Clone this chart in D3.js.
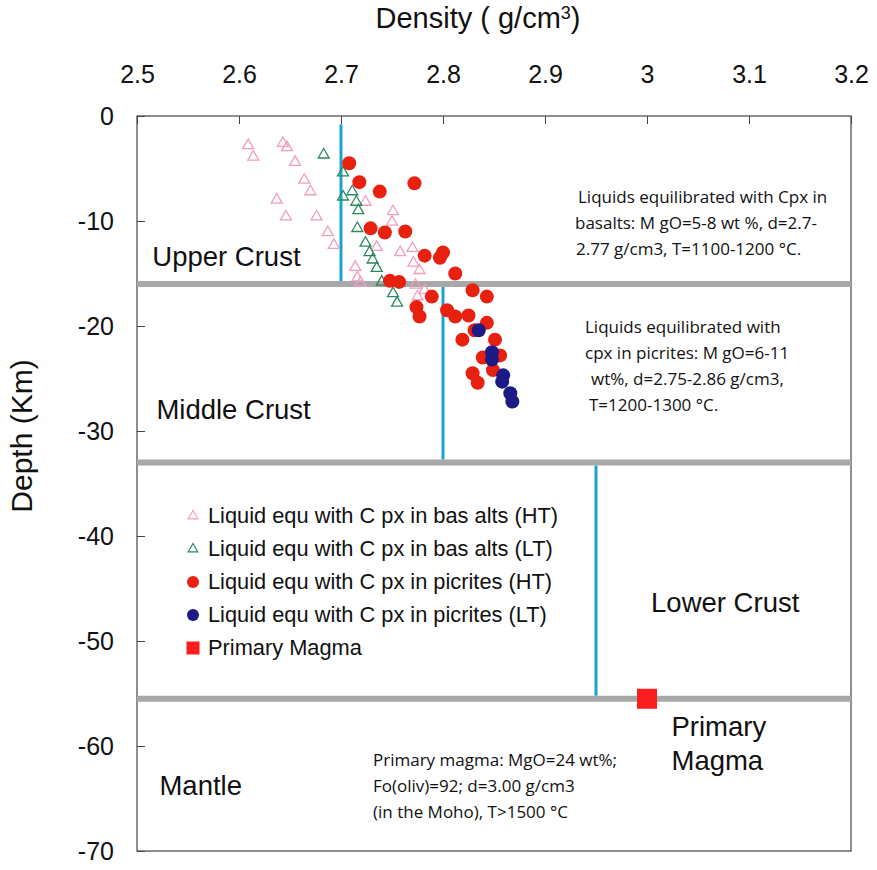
<!DOCTYPE html>
<html>
<head>
<meta charset="utf-8">
<script src="https://cdn.jsdelivr.net/npm/d3@7/dist/d3.min.js"></script>
<style>
  body { margin: 0; background: #fff; }
  text { font-family: "Liberation Sans", Arial, sans-serif; fill: #111; }
  .note { font-family: "Open Sans", "Noto Sans", sans-serif; font-size: 17px; }
</style>
</head>
<body>
<div id="chart"></div>
<script>
// axis ticks
var densityTicks = [2.5, 2.6, 2.7, 2.8, 2.9, 3.0, 3.1, 3.2];
var depthTicks = [0, -10, -20, -30, -40, -50, -60, -70];

// [density g/cm3, depth km]
var basaltsHT = [
  [2.609, -2.8], [2.614, -3.9], [2.643, -2.6], [2.647, -3.0], [2.655, -4.4],
  [2.664, -6.1], [2.670, -7.2], [2.637, -8.0], [2.646, -9.6], [2.676, -9.6],
  [2.687, -11.1], [2.693, -12.3], [2.724, -8.2], [2.751, -9.1], [2.750, -10.1],
  [2.735, -12.5], [2.758, -13.0], [2.770, -12.6], [2.771, -14.0], [2.777, -14.7],
  [2.714, -14.4], [2.716, -15.4], [2.719, -15.9], [2.773, -16.1], [2.782, -16.6],
  [2.775, -17.2]
];
var basaltsLT = [
  [2.683, -3.7], [2.702, -5.4], [2.702, -7.7], [2.711, -7.2], [2.715, -8.2],
  [2.717, -9.0], [2.716, -10.7], [2.724, -12.1], [2.728, -13.0], [2.731, -13.7],
  [2.735, -14.5], [2.740, -15.8], [2.751, -16.9], [2.755, -17.8]
];
var picritesHT = [
  [2.708, -4.5], [2.718, -6.3], [2.738, -7.2], [2.772, -6.4], [2.729, -10.7],
  [2.743, -11.1], [2.763, -11.0], [2.782, -13.3], [2.797, -13.5], [2.800, -13.0],
  [2.812, -15.0], [2.748, -15.7], [2.757, -15.8], [2.789, -17.2], [2.829, -16.6],
  [2.843, -17.2], [2.774, -18.2], [2.804, -18.5], [2.812, -19.1], [2.825, -19.0],
  [2.777, -19.1], [2.843, -19.7], [2.831, -20.4], [2.851, -21.3], [2.819, -21.3],
  [2.839, -23.0], [2.856, -22.8], [2.849, -24.2], [2.829, -24.5], [2.834, -25.4]
];
var picritesLT = [
  [2.835, -20.4], [2.848, -22.5], [2.848, -23.2], [2.859, -24.7],
  [2.858, -25.3], [2.866, -26.4], [2.868, -27.2]
];
var primaryMagma = [[3.0, -55.5]];

// crust layer boundaries (km) and model densities per layer
var boundaries = [-16, -33, -55.5];
var layerDensity = [
  { d: 2.7, top: -0.8, bottom: -16 },
  { d: 2.8, top: -16, bottom: -33 },
  { d: 2.95, top: -33, bottom: -55.5 }
];

var legendLabels = [
  "Liquid equ with C px in bas alts (HT)",
  "Liquid equ with C px in bas alts (LT)",
  "Liquid equ with C px in picrites (HT)",
  "Liquid equ with C px in picrites (LT)",
  "Primary Magma"
];

var svgWidth = 877, svgHeight = 870;
var plot = { left: 137, right: 851, top: 116, bottom: 851 };

var svg = d3.select("#chart").append("svg")
  .attr("width", svgWidth)
  .attr("height", svgHeight);

var x = d3.scaleLinear().domain([2.5, 3.2]).range([plot.left, plot.right]);
var y = d3.scaleLinear().domain([0, -70]).range([plot.top, plot.bottom]);

// frame
svg.append("rect")
  .attr("x", plot.left).attr("y", plot.top)
  .attr("width", plot.right - plot.left).attr("height", plot.bottom - plot.top)
  .attr("fill", "none").attr("stroke", "#444").attr("stroke-width", 1.2);

// axes, ticks pointing inward
var xAxis = d3.axisTop(x).tickValues(densityTicks).tickFormat(d => String(d))
  .tickSizeInner(-8).tickSizeOuter(0).tickPadding(33);
var yAxis = d3.axisLeft(y).tickValues(depthTicks).tickFormat(d => String(d))
  .tickSizeInner(-8).tickSizeOuter(0).tickPadding(23);

var gx = svg.append("g").attr("transform", `translate(0, ${plot.top})`).call(xAxis);
var gy = svg.append("g").attr("transform", `translate(${plot.left}, 0)`).call(yAxis);
[gx, gy].forEach(function (g) {
  g.select(".domain").remove();
  g.selectAll("line").attr("stroke", "#444");
  g.selectAll("text").attr("font-size", 25).attr("fill", "#111")
    .attr("font-family", "Liberation Sans, Arial, sans-serif");
});

// axis titles
var title = svg.append("text")
  .attr("x", 478).attr("y", 28)
  .attr("text-anchor", "middle")
  .attr("font-size", 29)
  .text("Density ( g/cm");
title.append("tspan").attr("font-size", 18).attr("dy", -9).text("3");
title.append("tspan").attr("dy", 9).text(")");

svg.append("text")
  .attr("transform", "translate(32, 436) rotate(-90)")
  .attr("text-anchor", "middle")
  .attr("font-size", 30)
  .text("Depth (Km)");

// boundaries
svg.append("g").selectAll("line")
  .data(boundaries).enter().append("line")
  .attr("x1", plot.left).attr("x2", plot.right)
  .attr("y1", d => y(d)).attr("y2", d => y(d))
  .attr("stroke", "#a8a8a8").attr("stroke-width", 6);

// model density per layer
svg.append("g").selectAll("line")
  .data(layerDensity).enter().append("line")
  .attr("x1", d => x(d.d)).attr("x2", d => x(d.d))
  .attr("y1", d => y(d.top) + (d.top === -0.8 ? 0 : 3))
  .attr("y2", d => y(d.bottom) - 3)
  .attr("stroke", "#1ba2d4").attr("stroke-width", 3);

// points
var tri = d3.symbol().type(d3.symbolTriangle).size(52);

function triangles(data, color) {
  svg.append("g").selectAll("path")
    .data(data).enter().append("path")
    .attr("d", tri)
    .attr("transform", d => `translate(${x(d[0])}, ${y(d[1])})`)
    .attr("fill", "none")
    .attr("stroke", color)
    .attr("stroke-width", 1.3);
}
function circles(data, color) {
  svg.append("g").selectAll("circle")
    .data(data).enter().append("circle")
    .attr("cx", d => x(d[0]))
    .attr("cy", d => y(d[1]))
    .attr("r", 7)
    .attr("fill", color);
}

triangles(basaltsHT, "#f29cc0");
triangles(basaltsLT, "#2b8a5c");
circles(picritesHT, "#e8200f");
circles(picritesLT, "#1c1a86");

svg.append("g").selectAll("rect")
  .data(primaryMagma).enter().append("rect")
  .attr("x", d => x(d[0]) - 10)
  .attr("y", d => y(d[1]) - 10)
  .attr("width", 20).attr("height", 20)
  .attr("fill", "#fa1e1e");

// region labels
var regions = [
  { t: "Upper Crust", d: 2.515, z: -14.3 },
  { t: "Middle Crust", d: 2.519, z: -28.9 },
  { t: "Lower Crust", d: 3.004, z: -47.2 },
  { t: "Mantle", d: 2.522, z: -64.7 }
];
svg.append("g").selectAll("text")
  .data(regions).enter().append("text")
  .attr("x", d => x(d.d)).attr("y", d => y(d.z))
  .attr("font-size", 27.5)
  .text(d => d.t);

svg.append("text").attr("x", x(3.024)).attr("y", y(-59.0)).attr("font-size", 27.5).text("Primary");
svg.append("text").attr("x", x(3.024)).attr("y", y(-62.3)).attr("font-size", 27.5).text("Magma");

// notes
function note(lines, x0, y0) {
  var g = svg.append("g");
  lines.forEach(function (l, i) {
    g.append("text").attr("class", "note")
      .attr("x", x0 + (l.dx || 0)).attr("y", y0 + i * 26)
      .text(l.t);
  });
}
note([
  { t: "Liquids equilibrated with Cpx in", dx: 3 },
  { t: "basalts: M gO=5-8 wt %, d=2.7-" },
  { t: "2.77 g/cm3, T=1100-1200 °C.", dx: 1 }
], 575, 203);
note([
  { t: "Liquids equilibrated with" },
  { t: "cpx in picrites: M gO=6-11" },
  { t: "wt%, d=2.75-2.86 g/cm3,", dx: 6 },
  { t: "T=1200-1300 °C.", dx: 4 }
], 585, 333);
note([
  { t: "Primary magma: MgO=24 wt%;" },
  { t: "Fo(oliv)=92; d=3.00 g/cm3" },
  { t: "(in the Moho), T>1500 °C" }
], 373, 766);

// legend
var legend = svg.append("g").attr("transform", "translate(193, 516)");
var legendMarks = [
  function (g) { g.append("path").attr("d", d3.symbol().type(d3.symbolTriangle).size(40)).attr("fill", "none").attr("stroke", "#f29cc0").attr("stroke-width", 1.2); },
  function (g) { g.append("path").attr("d", d3.symbol().type(d3.symbolTriangle).size(40)).attr("fill", "none").attr("stroke", "#2b8a5c").attr("stroke-width", 1.2); },
  function (g) { g.append("circle").attr("r", 6).attr("fill", "#e8200f"); },
  function (g) { g.append("circle").attr("r", 6).attr("fill", "#1c1a86"); },
  function (g) { g.append("rect").attr("x", -6.5).attr("y", -6.5).attr("width", 13).attr("height", 13).attr("fill", "#fa1e1e"); }
];
legendLabels.forEach(function (label, i) {
  var row = legend.append("g").attr("transform", `translate(0, ${i * 33})`);
  legendMarks[i](row);
  row.append("text").attr("x", 15).attr("y", 7).attr("font-size", 21.8).text(label);
});
</script>
</body>
</html>
